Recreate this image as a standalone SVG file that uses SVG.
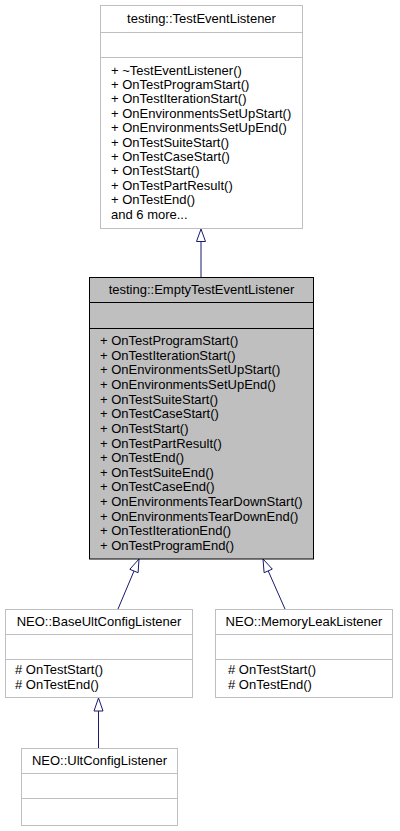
<svg xmlns="http://www.w3.org/2000/svg" width="400" height="831" viewBox="0 0 400 831">
<style>
  .box { fill: #ffffff; stroke: #bfbfbf; stroke-width: 1; }
  .base { fill: #bfbfbf; stroke: #000000; stroke-width: 1; }
  .div { stroke: #bfbfbf; stroke-width: 1; }
  .divb { stroke: #000000; stroke-width: 1; }
  text { font-family: "Liberation Sans", Arial, sans-serif; font-size: 13px; fill: #000000; }
  .t { text-anchor: middle; }
  .edge { stroke: #191970; stroke-width: 1; fill: none; }
  .head { stroke: #191970; stroke-width: 1; fill: #ffffff; }
</style>
<rect width="400" height="831" fill="#ffffff"/>
<g id="connectors">
  <line class="edge" x1="201" y1="277" x2="201" y2="241.5"/>
  <polygon class="head" points="201,229 196.5,241.5 205.5,241.5"/>
  <line class="edge" x1="118" y1="609" x2="134" y2="571"/>
  <polygon class="head" points="139,559 129.8,569.3 138.1,572.7"/>
  <line class="edge" x1="285" y1="609" x2="268.2" y2="570.9"/>
  <polygon class="head" points="263,559 272.3,569.1 264.1,572.7"/>
  <line class="edge" x1="98.5" y1="748" x2="98.5" y2="711"/>
  <polygon class="head" points="98.5,698 94,711 103,711"/>
</g>
<g id="TestEventListener">
  <rect class="box" x="100.5" y="5.5" width="202" height="223"/>
  <line class="div" x1="100.5" y1="32.5" x2="302.5" y2="32.5"/>
  <line class="div" x1="100.5" y1="57.5" x2="302.5" y2="57.5"/>
  <text class="t" x="201.5" y="23">testing::TestEventListener</text>
  <text x="111" y="74.5">+ ~TestEventListener()</text>
  <text x="111" y="88.9">+ OnTestProgramStart()</text>
  <text x="111" y="103.3">+ OnTestIterationStart()</text>
  <text x="111" y="117.7">+ OnEnvironmentsSetUpStart()</text>
  <text x="111" y="132.1">+ OnEnvironmentsSetUpEnd()</text>
  <text x="111" y="146.5">+ OnTestSuiteStart()</text>
  <text x="111" y="160.9">+ OnTestCaseStart()</text>
  <text x="111" y="175.3">+ OnTestStart()</text>
  <text x="111" y="189.7">+ OnTestPartResult()</text>
  <text x="111" y="204.1">+ OnTestEnd()</text>
  <text x="111" y="218.5">and 6 more...</text>
</g>
<g id="EmptyTestEventListener">
  <rect class="base" x="89.5" y="277.5" width="224" height="281.5"/>
  <line class="divb" x1="89.5" y1="302.5" x2="313.5" y2="302.5"/>
  <line class="divb" x1="89.5" y1="328.5" x2="313.5" y2="328.5"/>
  <text class="t" x="201.5" y="294">testing::EmptyTestEventListener</text>
  <text x="100" y="345">+ OnTestProgramStart()</text>
  <text x="100" y="359.6">+ OnTestIterationStart()</text>
  <text x="100" y="374.3">+ OnEnvironmentsSetUpStart()</text>
  <text x="100" y="388.9">+ OnEnvironmentsSetUpEnd()</text>
  <text x="100" y="403.6">+ OnTestSuiteStart()</text>
  <text x="100" y="418.2">+ OnTestCaseStart()</text>
  <text x="100" y="432.8">+ OnTestStart()</text>
  <text x="100" y="447.5">+ OnTestPartResult()</text>
  <text x="100" y="462.1">+ OnTestEnd()</text>
  <text x="100" y="476.8">+ OnTestSuiteEnd()</text>
  <text x="100" y="491.4">+ OnTestCaseEnd()</text>
  <text x="100" y="506">+ OnEnvironmentsTearDownStart()</text>
  <text x="100" y="520.7">+ OnEnvironmentsTearDownEnd()</text>
  <text x="100" y="535.3">+ OnTestIterationEnd()</text>
  <text x="100" y="550">+ OnTestProgramEnd()</text>
</g>
<g id="BaseUltConfigListener">
  <rect class="box" x="5.5" y="609.5" width="187" height="88"/>
  <line class="div" x1="5.5" y1="634.5" x2="192.5" y2="634.5"/>
  <line class="div" x1="5.5" y1="659.5" x2="192.5" y2="659.5"/>
  <text class="t" x="99" y="625.5">NEO::BaseUltConfigListener</text>
  <text x="15" y="674">#&#160;OnTestStart()</text>
  <text x="15" y="688.5">#&#160;OnTestEnd()</text>
</g>
<g id="MemoryLeakListener">
  <rect class="box" x="215.5" y="609.5" width="177" height="88"/>
  <line class="div" x1="215.5" y1="634.5" x2="392.5" y2="634.5"/>
  <line class="div" x1="215.5" y1="659.5" x2="392.5" y2="659.5"/>
  <text class="t" x="304" y="625.5">NEO::MemoryLeakListener</text>
  <text x="228" y="674">#&#160;OnTestStart()</text>
  <text x="228" y="688.5">#&#160;OnTestEnd()</text>
</g>
<g id="UltConfigListener">
  <rect class="box" x="21.5" y="748.5" width="156" height="77"/>
  <line class="div" x1="21.5" y1="773.5" x2="177.5" y2="773.5"/>
  <line class="div" x1="21.5" y1="798.5" x2="177.5" y2="798.5"/>
  <text class="t" x="99.5" y="765">NEO::UltConfigListener</text>
</g>
</svg>
